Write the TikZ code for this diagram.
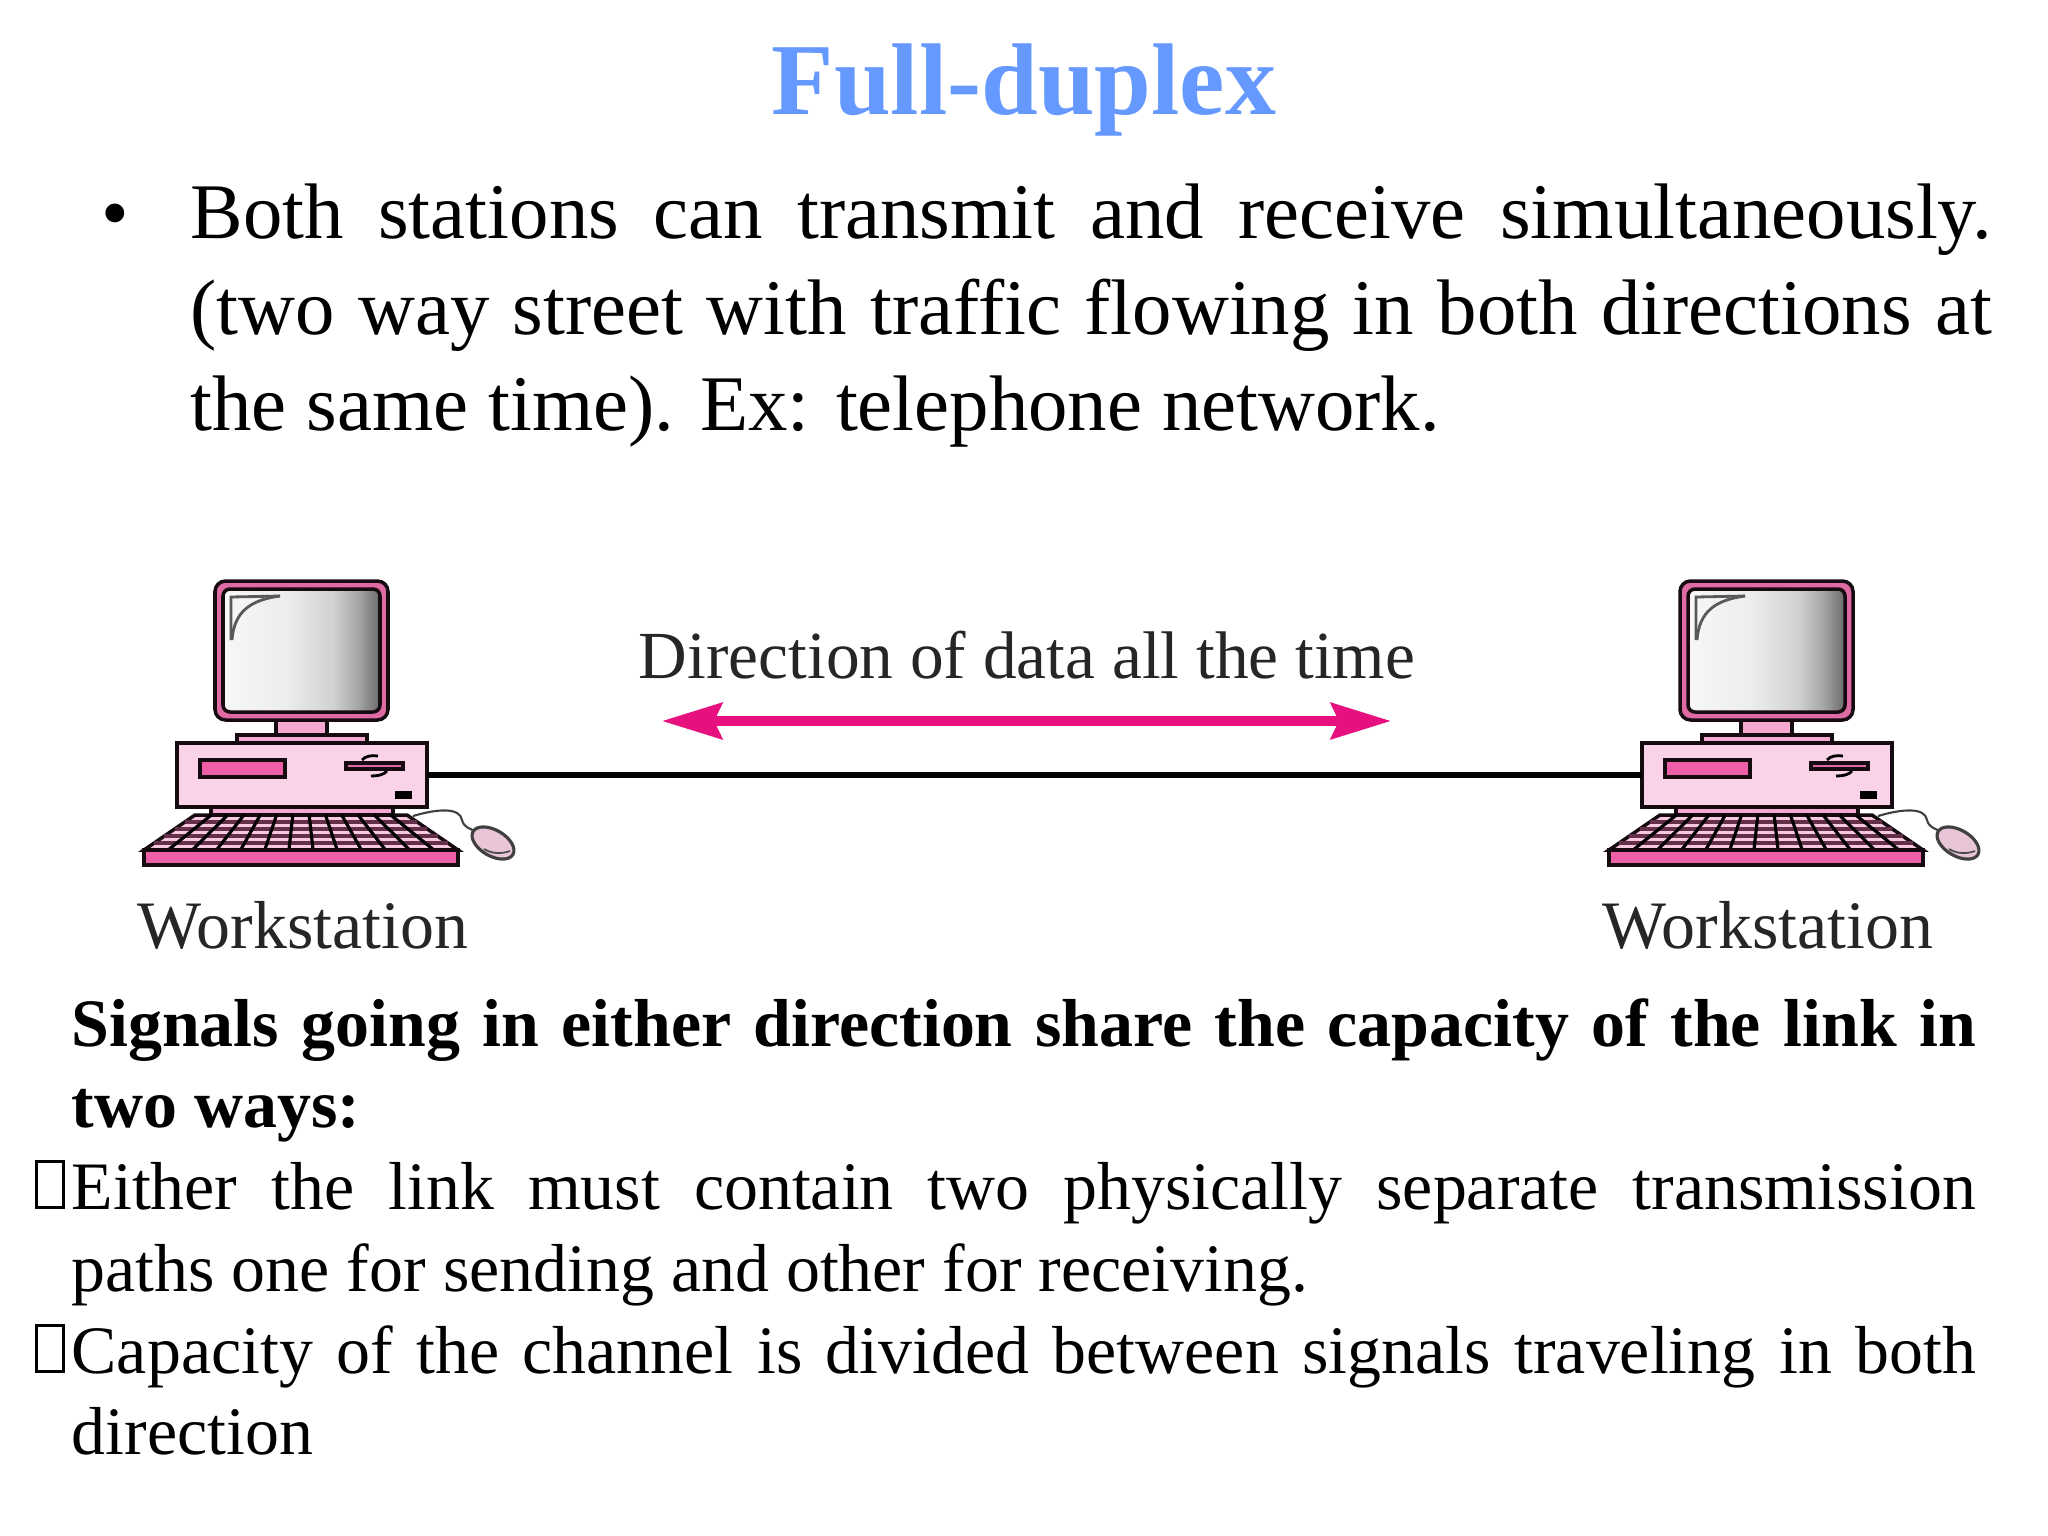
\documentclass[tikz,border=0pt]{standalone}
\usepackage{fontspec}
\setmainfont{Liberation Serif}
\usetikzlibrary{arrows.meta}
\definecolor{titleblue}{HTML}{6699FF}
\definecolor{arrowpink}{HTML}{E6107F}
\definecolor{framepink}{HTML}{DE6BA3}
\definecolor{casepink}{HTML}{FBD3E8}
\definecolor{neckpink}{HTML}{F5A9D0}
\definecolor{slotpink}{HTML}{EF5FA7}
\definecolor{keypink}{HTML}{F7C6DF}
\definecolor{labelgray}{HTML}{262626}
\pgfdeclarehorizontalshading{screengray}{100bp}{color(0bp)=(white!97!black); color(25bp)=(white!97!black); color(45bp)=(white!93!black); color(60bp)=(white!82!black); color(68bp)=(white!65!black); color(75bp)=(white!42!black); color(100bp)=(white!42!black)}
\tikzset{
  outline/.style={draw=black!90!framepink,line width=1pt},
  link/.style={line width=1.6pt},
  duplex/.style={arrowpink,line width=2.6pt,{Stealth[length=.6cm,width=.36cm,inset=.08cm]}-{Stealth[length=.6cm,width=.36cm,inset=.08cm]}},
  bodytext/.style={anchor=base west,inner sep=0pt,align=justify,font=\fontsize{22.4}{27.3}\selectfont},
  lowertext/.style={anchor=base west,inner sep=0pt,text width=19.03cm,align=justify,font=\fontsize{19.3}{23.3}\selectfont},
  figlabel/.style={anchor=base,inner sep=0pt,text=labelgray,font=\fontsize{19.3}{22}\selectfont},
  missing/.style={draw,line width=.6pt,minimum width=.27cm,minimum height=.46cm,inner sep=0pt,outer sep=0pt},
  workstation/.pic={
    % monitor
    \draw[outline,fill=neckpink] (276,718) rectangle (327,737);
    \draw[outline,fill=neckpink] (237,735) rectangle (367,745);
    \draw[outline,fill=framepink,rounded corners=3pt] (215,581) rectangle (388,720);
    \draw[outline,shading=screengray,rounded corners=2pt] (223,589) rectangle (380,712);
    \draw[black!65,line width=.8pt] (231,640) -- (231,597) -- (280,596);
    \draw[black!65,line width=.8pt] (232,640) .. controls (234,612) and (250,600) .. (280,596);
    % keyboard
    \draw[outline,fill=neckpink] (211,805) rectangle (393,815);
    \draw[outline,fill=keypink] (195,815) -- (407,815) -- (458,850) -- (144,850) -- cycle;
    \foreach \k in {1,...,4}
      \draw[black!55!framepink,line width=1pt] ({195-51*\k/5},{815+35*\k/5}) -- ({407+51*\k/5},{815+35*\k/5});
    \foreach \k in {1,...,12}
      \draw[line width=.9pt] ({195+212*\k/13},815) -- ({144+314*\k/13},850);
    \draw[outline,fill=slotpink] (144,850) rectangle (458,865);
    % case
    \node[outline,fill=casepink,minimum width=2.5cm,minimum height=.64cm,inner sep=0pt,outer sep=0pt] (case) at (302,775) {};
    \draw[outline,fill=slotpink] (200,760) rectangle (285,777);
    \draw[outline,fill=framepink] (346,763) rectangle (403,769);
    \draw[line width=.8pt] (362,760) .. controls (365,756) and (372,755) .. (378,756);
    \draw[line width=.8pt] (371,776) .. controls (377,776) and (384,775) .. (387,771);
    \fill (395,791) rectangle (412,799);
    % mouse
    \draw[black!75,line width=.6pt] (413,816) .. controls (440,808) and (460,808) .. (462,820) .. controls (464,828) and (470,828) .. (476,832);
    \draw[black!75,line width=.9pt,fill=casepink!85!gray,rotate around={-30:(493,843)}] (493,843) ellipse (23 and 13);
    \draw[black!70,line width=.5pt] (484,849) .. controls (492,854) and (502,854) .. (510,851);
  }
}
\begin{document}
\begin{tikzpicture}[x=.01cm,y=-.01cm]
  \useasboundingbox (0,0) rectangle (2048,1536);
  \node[anchor=base,inner sep=0pt,text=titleblue,font=\fontsize{29}{32}\selectfont\bfseries] (title) at (1024,114) {Full-duplex};
  \node[inner sep=0pt,font=\fontsize{22.4}{27.3}\selectfont,anchor=base] (bullet) at (115,239) {•};
  \node[bodytext,text width=18cm] (both) at (190,238.5) {Both stations can transmit and receive simultaneously.\linebreak (two way street with traffic flowing in both directions at\linebreak the same time). Ex: telephone network.};
  % the two stations and the link
  \pic (L) at (0,0) {workstation};
  \pic (R) at (1465,0) {workstation};
  \draw[link] (Lcase.east) -- (Rcase.west);
  \path (662,721) coordinate (back) (1391,721) coordinate (front);
  \draw[duplex] (back) -- (front);
  \node[figlabel,font=\fontsize{19.15}{22}\selectfont] (dir) at (1027,678) {Direction of data all the time};
  \node[figlabel] (wsL) at (303,948) {Workstation};
  \node[figlabel] (wsR) at (1768,948) {Workstation};
  % text below the figure
  \node[lowertext,font=\fontsize{19.3}{23.3}\selectfont\bfseries] (signals) at (71,1046) {Signals going in either direction share the capacity of the link in\linebreak two ways:};
  \node[lowertext] (either) at (71,1209.5) {Either the link must contain two physically separate transmission\linebreak paths one for sending and other for receiving.};
  \node[lowertext] (capacity) at (71,1373) {Capacity of the channel is divided between signals traveling in both\linebreak direction};
  \node[missing] (boxA) at (50,1184.5) {};
  \node[missing] (boxB) at (50,1348.5) {};
\end{tikzpicture}
\end{document}
